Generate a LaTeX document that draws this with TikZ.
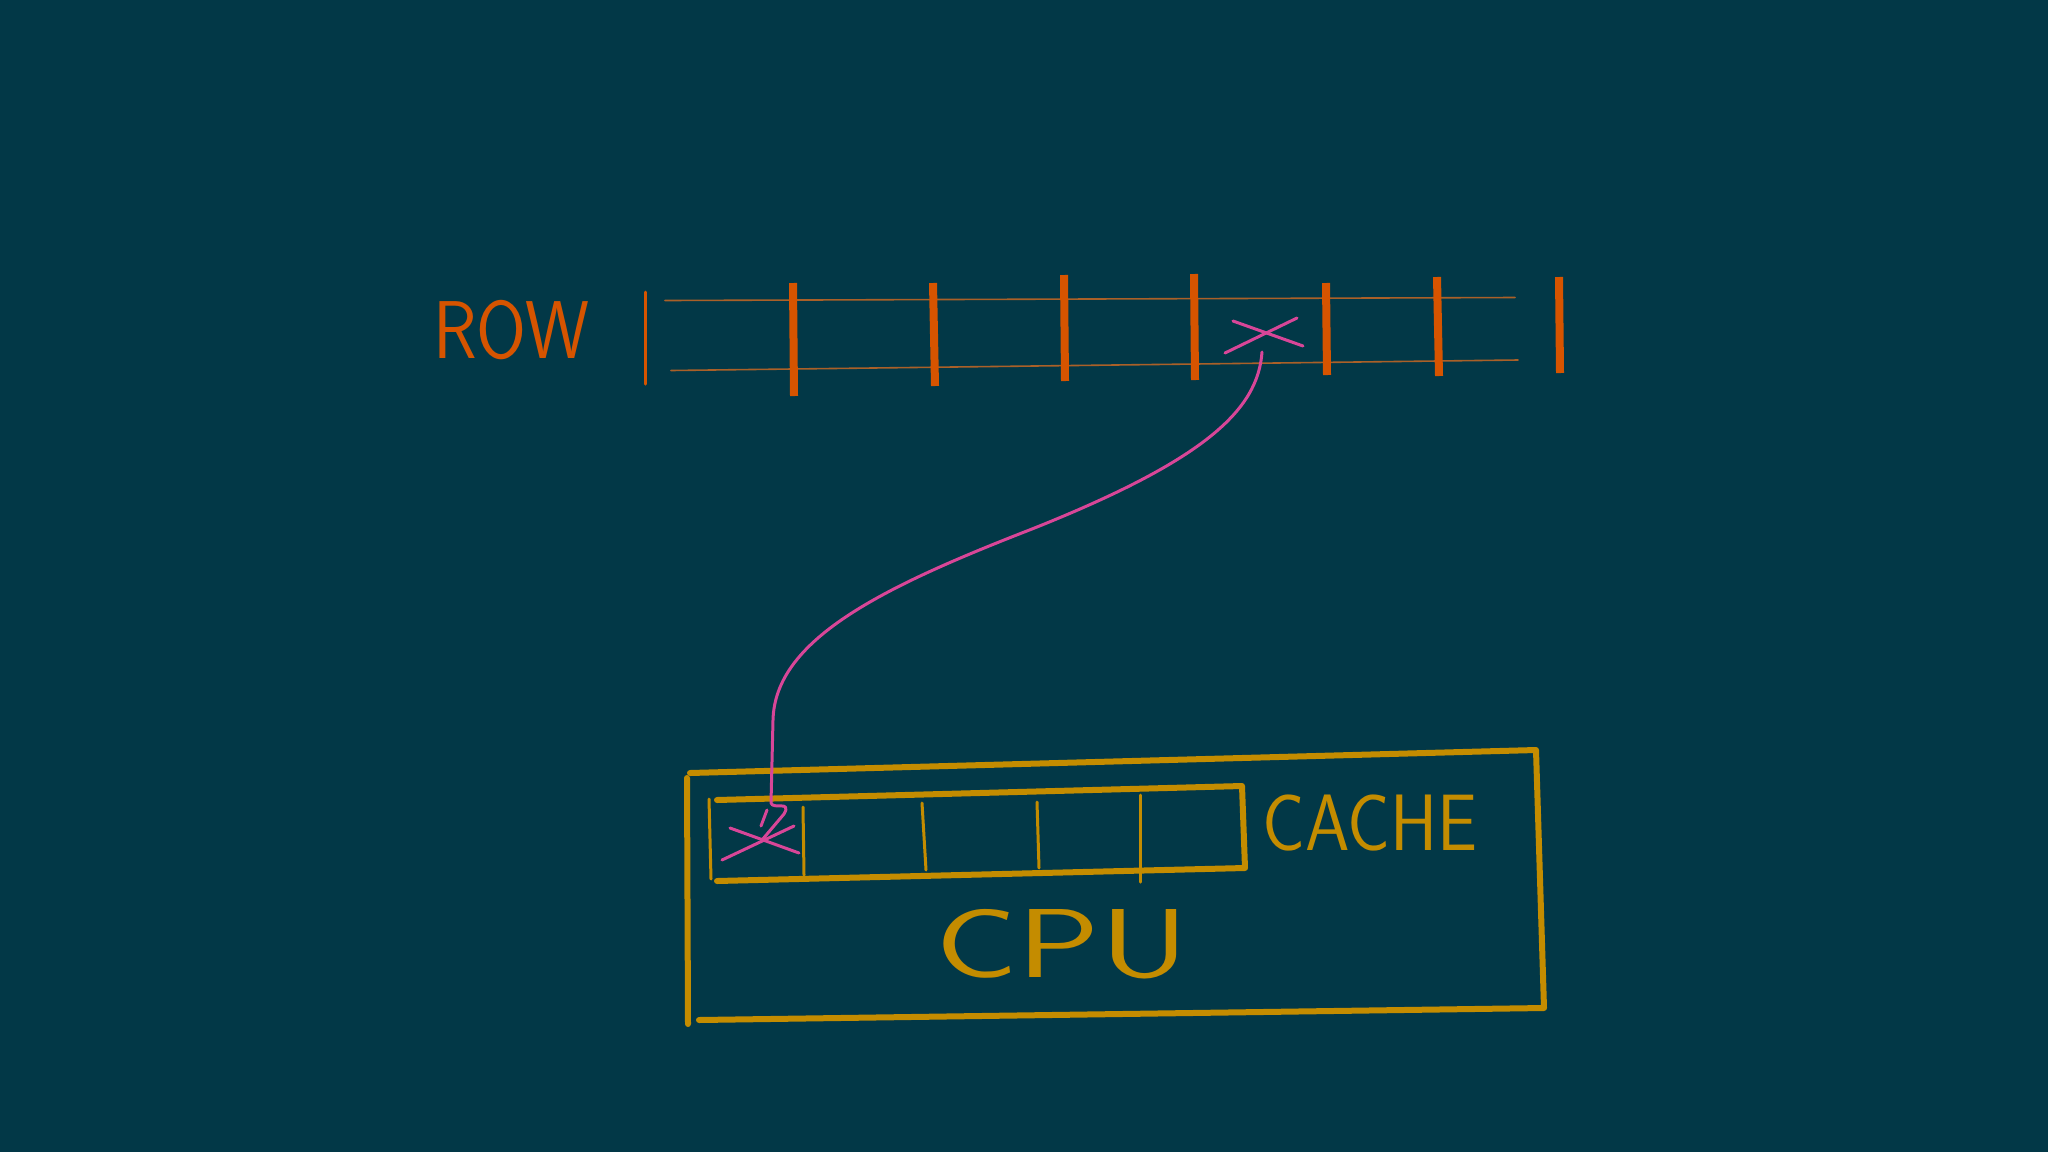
\documentclass[tikz,border=0pt]{standalone}
\usepackage{fontspec}
\definecolor{bg}{RGB}{2,56,71}
\definecolor{rowor}{RGB}{214,84,0}
\definecolor{rowthin}{RGB}{170,96,40}
\definecolor{gold}{RGB}{196,140,0}
\definecolor{pinkc}{RGB}{216,70,152}
\tikzset{
  bar/.style={rowor, line width=8pt, line cap=butt},
  rowline/.style={rowthin, line width=1.6pt},
  thintick/.style={rowor, line width=3pt},
  boxline/.style={gold, line width=6pt},
  divline/.style={gold, line width=3pt},
  pinkline/.style={pinkc, line width=3pt},
  label/.style={inner sep=0pt, font=\sffamily}
}
\begin{document}
\begin{tikzpicture}[x=1pt, y=-1pt, line cap=round, line join=round]
\fill[bg] (0,0) rectangle (2048,1152);
\useasboundingbox (0,0) rectangle (2048,1152);

% ROW label
\node[label, text=rowor, xscale=0.88, font=\sffamily\fontsize{82}{82}\selectfont] (rowlabel) at (511,330) {ROW};

% row
\draw[thintick] (645,292) -- (645,384);
\draw[rowline] (665,300.5) -- (1515,297.5);
\draw[rowline] (671,370.5) -- (1518,360);
\draw[bar] (793,283) -- (794,396);
\draw[bar] (933,283) -- (935,386);
\draw[bar] (1064,275) -- (1065,381);
\draw[bar] (1194,274) -- (1195,380);
\draw[bar] (1326,283) -- (1327,375);
\draw[bar] (1437,277) -- (1439,376);
\draw[bar] (1559,277) -- (1560,373);

% pink X in row
\coordinate (src) at (1262,352);
\draw[pinkline] (1233,321) -- (1303,346);
\draw[pinkline] (1225,353) -- (1297,318);

% CPU box
\draw[boxline] (690,773) -- (1536,750) -- (1544,1008) -- (699,1020);
\draw[boxline] (687,778) -- (688,1024);

% cache box
\draw[boxline] (717,800) -- (1242,786) -- (1245,868) -- (717,881);
\draw[divline] (709,799) -- (711,879);
\draw[divline] (803,807) -- (804,875);
\draw[divline] (922,803) -- (926,870);
\draw[divline] (1037,802) -- (1039,868);
\draw[divline] (1140,795) -- (1140,882);

% pink X in cache
\coordinate (dst) at (771,803);
\draw[pinkline] (730,828) -- (799,853);
\draw[pinkline] (722,860) -- (794,826);

% connector
\draw[pinkline] (src) .. controls (1258,410) and (1205,460) .. (1032,529)
  .. controls (880,588) and (775,640) .. (773,720) -- (dst)
  .. controls (773,810) and (792,800) .. (784,814) -- (762,840);
\draw[pinkline] (767,810) -- (761,826);

% labels
\node[label, text=gold, xscale=0.89, font=\sffamily\fontsize{80}{80}\selectfont] (cache) at (1370,823) {CACHE};
\node[label, text=gold, xscale=1.4, font=\sffamily\fontsize{98}{98}\selectfont] (cpu) at (1062,944) {CPU};
\end{tikzpicture}
\end{document}
